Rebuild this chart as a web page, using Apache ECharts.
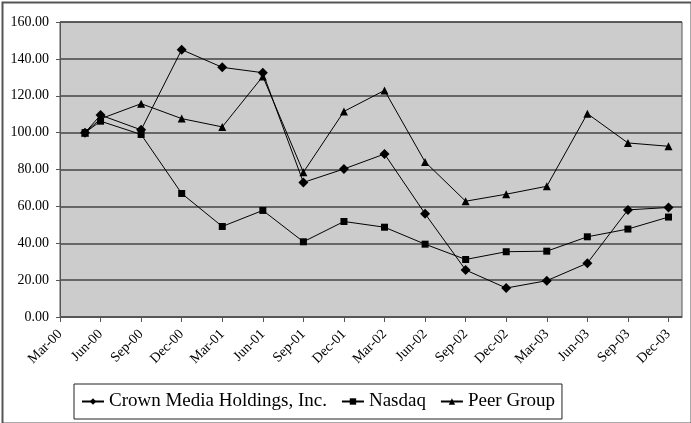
<!DOCTYPE html>
<html>
<head>
<meta charset="utf-8">
<script src="https://cdn.jsdelivr.net/npm/echarts@6/dist/echarts.min.js"></script>
<style>
html,body{margin:0;padding:0;background:#fff;}
#c{width:691px;height:423px;}
</style>
</head>
<body>
<div id="c"></div>
<script>
// Tick labels (quarters), positioned in months since Mar-00
const tickLabels = ['Mar-00','Jun-00','Sep-00','Dec-00','Mar-01','Jun-01','Sep-01','Dec-01',
  'Mar-02','Jun-02','Sep-02','Dec-02','Mar-03','Jun-03','Sep-03','Dec-03'];
const tickMonths = [0,3,6,9,12,15,18,21,24,27,30,33,36,39,42,45];
// Observation dates, months since Mar-00 (first = IPO date, mid/late May 2000)
const pointMonths = [1.85,3,6,9,12,15,18,21,24,27,30,33,36,39,42,45];
const crown  = [100,109.5,101.5,145,135.4,132.5,73,80.3,88.4,56,25.5,15.7,19.7,29.2,58.1,59.4];
const nasdaq = [100,106.2,99,67,49.1,57.8,40.8,51.8,48.7,39.5,31.2,35.4,35.7,43.5,47.7,54.2];
const peer   = [100,107.5,115.7,107.6,103.1,130.5,78.5,111.5,122.9,84.1,62.8,66.6,70.9,110.3,94.4,92.6];
const seriesNames = ['Crown Media Holdings, Inc.','Nasdaq','Peer Group'];

const FONT = '"Liberation Serif","Times New Roman",serif';
const pair = (xs, ys) => xs.map((x, i) => [x, ys[i]]);

const chart = echarts.init(document.getElementById('c'), null, {renderer: 'canvas'});
function mk(name, data, symbol, size) {
  return {
    name, type: 'line', data: pair(pointMonths, data),
    symbol, symbolSize: size,
    lineStyle: {color: '#000', width: 1},
    itemStyle: {color: '#000'},
    emphasis: {disabled: true},
    animation: false
  };
}
chart.setOption({
  animation: false,
  backgroundColor: '#fff',
  textStyle: {fontFamily: FONT},
  graphic: [{
    type: 'rect', left: 0, top: 0, z: 100, silent: true,
    shape: {x: 1, y: 1, width: 689, height: 421},
    style: {fill: 'none', stroke: '#555', lineWidth: 2}
  }],
  grid: {left: 60, top: 22, right: 9, bottom: 106, show: true,
         backgroundColor: '#cccccc', borderColor: '#555', borderWidth: 1},
  legend: {
    left: 74, top: 384,
    data: seriesNames,
    itemWidth: 22, itemHeight: 8, itemGap: 14,
    padding: [8, 7, 8, 7],
    borderColor: '#222', borderWidth: 1,
    textStyle: {fontFamily: FONT, fontSize: 19, color: '#000'},
    selectedMode: false
  },
  xAxis: {
    type: 'value', min: 0, max: 46, interval: 3,
    axisLine: {lineStyle: {color: '#555'}},
    axisTick: {show: true, length: 5, lineStyle: {color: '#555'}, customValues: tickMonths},
    axisLabel: {
      customValues: tickMonths, rotate: 45, margin: 15,
      fontFamily: FONT, fontSize: 14, color: '#000',
      formatter: v => { const i = tickMonths.indexOf(v); return i >= 0 ? tickLabels[i] : ''; }
    },
    splitLine: {show: false}
  },
  yAxis: {
    type: 'value', min: 0, max: 160, interval: 20,
    axisLine: {show: true, lineStyle: {color: '#555'}},
    axisTick: {show: true, length: 4, lineStyle: {color: '#555'}},
    axisLabel: {fontFamily: FONT, fontSize: 14, color: '#000', margin: 11,
                formatter: v => v.toFixed(2)},
    splitLine: {show: true, lineStyle: {color: '#444', width: 1.5}}
  },
  series: [
    mk(seriesNames[0], crown, 'diamond', 10),
    mk(seriesNames[1], nasdaq, 'rect', 7),
    mk(seriesNames[2], peer, 'triangle', 8)
  ]
});
</script>
</body>
</html>
